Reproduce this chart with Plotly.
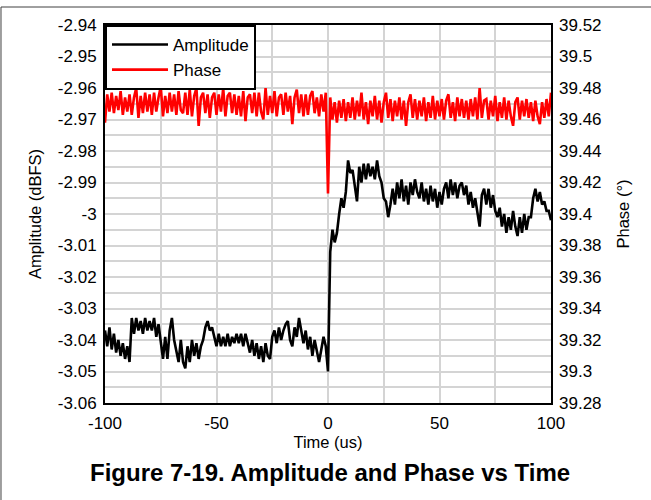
import plotly.graph_objects as go

# sample times (us), one sample per microsecond
time_us = list(range(-100, 101))

# amplitude (dBFS)
amplitude_dbfs = [
    -3.037, -3.042, -3.036, -3.043, -3.038, -3.044, -3.040, -3.045, -3.041, -3.046, -3.042,
    -3.047, -3.033, -3.038, -3.033, -3.037, -3.034, -3.038, -3.033, -3.037, -3.034,
    -3.037, -3.033, -3.039, -3.035, -3.041, -3.046, -3.039, -3.046, -3.037, -3.033,
    -3.040, -3.043, -3.047, -3.040, -3.047, -3.049, -3.042, -3.047, -3.040, -3.045,
    -3.041, -3.046, -3.042, -3.040, -3.036, -3.034, -3.037, -3.036, -3.039, -3.042,
    -3.038, -3.042, -3.039, -3.042, -3.038, -3.042, -3.039, -3.041, -3.038, -3.041,
    -3.038, -3.042, -3.038, -3.041, -3.044, -3.040, -3.045, -3.041, -3.046, -3.042,
    -3.047, -3.041, -3.045, -3.046, -3.039, -3.037, -3.041, -3.036, -3.040, -3.037,
    -3.035, -3.034, -3.040, -3.042, -3.036, -3.039, -3.033, -3.037, -3.041, -3.037,
    -3.043, -3.039, -3.045, -3.040, -3.044, -3.047, -3.043, -3.039, -3.042, -3.050,
    -3.012, -3.005, -3.009, -3.006, -3.000, -2.995, -2.998, -2.993, -2.983, -2.987,
    -2.986, -2.991, -2.996, -2.985, -2.990, -2.984, -2.989, -2.984, -2.988, -2.985,
    -2.989, -2.983, -2.988, -2.990, -2.995, -2.996, -3.001, -2.997, -2.992, -2.997,
    -2.990, -2.995, -2.989, -2.996, -2.991, -2.997, -2.990, -2.994, -2.989, -2.993,
    -2.995, -2.990, -2.996, -2.992, -2.997, -2.991, -2.996, -2.992, -2.998, -2.993,
    -2.997, -2.992, -2.990, -2.995, -2.989, -2.994, -2.990, -2.995, -2.991, -2.990,
    -2.994, -2.991, -2.997, -2.993, -2.998, -2.995, -2.999, -3.004, -2.994, -2.992,
    -2.997, -2.992, -2.998, -2.994, -2.999, -3.001, -2.998, -3.004, -3.000, -3.006,
    -3.001, -3.005, -2.999, -3.004, -3.007, -3.001, -3.006, -3.000, -3.005, -3.001,
    -3.001, -2.995, -2.992, -2.996, -2.993, -2.997, -2.996, -2.999, -2.999, -3.002,
]

# phase (degrees)
phase_deg = [
    39.458, 39.476, 39.465, 39.477, 39.464, 39.475, 39.466, 39.478, 39.463, 39.474,
    39.465, 39.476, 39.463, 39.474, 39.480, 39.461, 39.475, 39.464, 39.477, 39.465,
    39.476, 39.463, 39.477, 39.465, 39.474, 39.481, 39.462, 39.475, 39.464, 39.477,
    39.465, 39.476, 39.463, 39.478, 39.466, 39.464, 39.477, 39.463, 39.479, 39.462,
    39.475, 39.480, 39.456, 39.474, 39.477, 39.464, 39.476, 39.461, 39.474, 39.477,
    39.463, 39.476, 39.465, 39.480, 39.462, 39.475, 39.477, 39.464, 39.476, 39.463,
    39.475, 39.462, 39.478, 39.459, 39.474, 39.476, 39.464, 39.477, 39.462, 39.477,
    39.465, 39.460, 39.480, 39.463, 39.475, 39.464, 39.478, 39.462, 39.474, 39.476,
    39.463, 39.477, 39.465, 39.475, 39.457, 39.474, 39.479, 39.464, 39.476, 39.462,
    39.476, 39.463, 39.475, 39.478, 39.464, 39.474, 39.462, 39.476, 39.465, 39.477,
    39.413,
    39.474, 39.460, 39.471, 39.458, 39.472, 39.461, 39.473, 39.459, 39.471, 39.461,
    39.474, 39.460, 39.472, 39.462, 39.477, 39.460, 39.471, 39.457, 39.472, 39.462,
    39.475, 39.460, 39.472, 39.458, 39.471, 39.477, 39.461, 39.473, 39.459, 39.472,
    39.462, 39.474, 39.460, 39.472, 39.456, 39.471, 39.476, 39.461, 39.473, 39.460,
    39.472, 39.462, 39.474, 39.459, 39.471, 39.461, 39.475, 39.460, 39.472, 39.462,
    39.473, 39.460, 39.472, 39.476, 39.461, 39.471, 39.459, 39.474, 39.462, 39.473,
    39.461, 39.472, 39.460, 39.473, 39.462, 39.474, 39.460, 39.480, 39.461, 39.472,
    39.473, 39.460, 39.472, 39.462, 39.475, 39.459, 39.471, 39.461, 39.474, 39.460,
    39.472, 39.462, 39.456, 39.471, 39.474, 39.460, 39.472, 39.462, 39.473, 39.461,
    39.471, 39.459, 39.472, 39.462, 39.457, 39.471, 39.461, 39.473, 39.462, 39.477,
]

amp_ticks = [-3.06, -3.05, -3.04, -3.03, -3.02, -3.01, -3.0, -2.99, -2.98, -2.97, -2.96, -2.95, -2.94]
amp_tick_labels = ["-3.06", "-3.05", "-3.04", "-3.03", "-3.02", "-3.01", "-3",
                   "-2.99", "-2.98", "-2.97", "-2.96", "-2.95", "-2.94"]
phase_ticks = [39.28, 39.30, 39.32, 39.34, 39.36, 39.38, 39.40, 39.42, 39.44, 39.46, 39.48, 39.50, 39.52]
phase_tick_labels = ["39.28", "39.3", "39.32", "39.34", "39.36", "39.38", "39.4",
                     "39.42", "39.44", "39.46", "39.48", "39.5", "39.52"]
time_ticks = [-100, -50, 0, 50, 100]
time_tick_labels = ["-100", "-50", "0", "50", "100"]

FONT = "Liberation Sans, Arial, sans-serif"
GRID = "#d4d4d4"

fig = go.Figure()
fig.add_trace(go.Scatter(x=time_us, y=amplitude_dbfs, mode="lines", name="Amplitude",
                         line=dict(color="black", width=2.6)))
fig.add_trace(go.Scatter(x=time_us, y=phase_deg, mode="lines", name="Phase", yaxis="y2",
                         line=dict(color="#ff0000", width=2.6)))

fig.update_layout(
    width=651, height=500,
    margin=dict(l=105, r=100, t=25, b=97),
    paper_bgcolor="white", plot_bgcolor="white",
    font=dict(family=FONT, size=17, color="black"),
    showlegend=True,
    legend=dict(x=0, y=1, xanchor="left", yanchor="top", bgcolor="white",
                bordercolor="black", borderwidth=2, itemwidth=56,
                font=dict(size=17), tracegroupgap=0),
    title=dict(text="<b>Figure 7-19. Amplitude and Phase vs Time</b>",
               x=0.507, xanchor="center", y=0.054, yanchor="middle",
               font=dict(family=FONT, size=24, color="black")),
    xaxis=dict(range=[-100, 100], tickvals=time_ticks, ticktext=time_tick_labels,
               showgrid=True, gridcolor=GRID, gridwidth=1.5,
               minor=dict(dtick=25, tick0=0, showgrid=True, gridcolor=GRID, gridwidth=1.5),
               showline=True, linecolor="black", linewidth=2, mirror=True,
               ticks="", zeroline=False, ticklabelstandoff=4,
               title=dict(text="Time (us)", font=dict(size=16.5), standoff=0)),
    yaxis=dict(range=[-3.06, -2.94], tickvals=amp_ticks, ticktext=amp_tick_labels,
               showgrid=True, gridcolor=GRID, gridwidth=1.5,
               minor=dict(dtick=0.005, tick0=-3.06, showgrid=True, gridcolor=GRID, gridwidth=1.5),
               showline=True, linecolor="black", linewidth=2, mirror=True,
               ticks="", zeroline=False, ticklabelstandoff=3,
               title=dict(text="Amplitude (dBFS)", font=dict(size=16.5), standoff=12)),
    yaxis2=dict(range=[39.28, 39.52], tickvals=phase_ticks, ticktext=phase_tick_labels,
                overlaying="y", side="right", showgrid=False, zeroline=False, ticks="",
                ticklabelstandoff=7,
                title=dict(text="Phase (°)", font=dict(size=16.5), standoff=16)),
    shapes=[
        dict(type="line", xref="paper", yref="paper", x0=-0.2332, x1=1.25, y0=1.0476, y1=1.0476,
             line=dict(color="#404040", width=1)),
        dict(type="line", xref="paper", yref="paper", x0=-0.2332, x1=-0.2332, y0=-0.3, y1=1.0476,
             line=dict(color="#404040", width=1)),
    ],
)

fig.write_html("out.html", config={"displayModeBar": False},
               post_script="document.body.style.margin='0';")
